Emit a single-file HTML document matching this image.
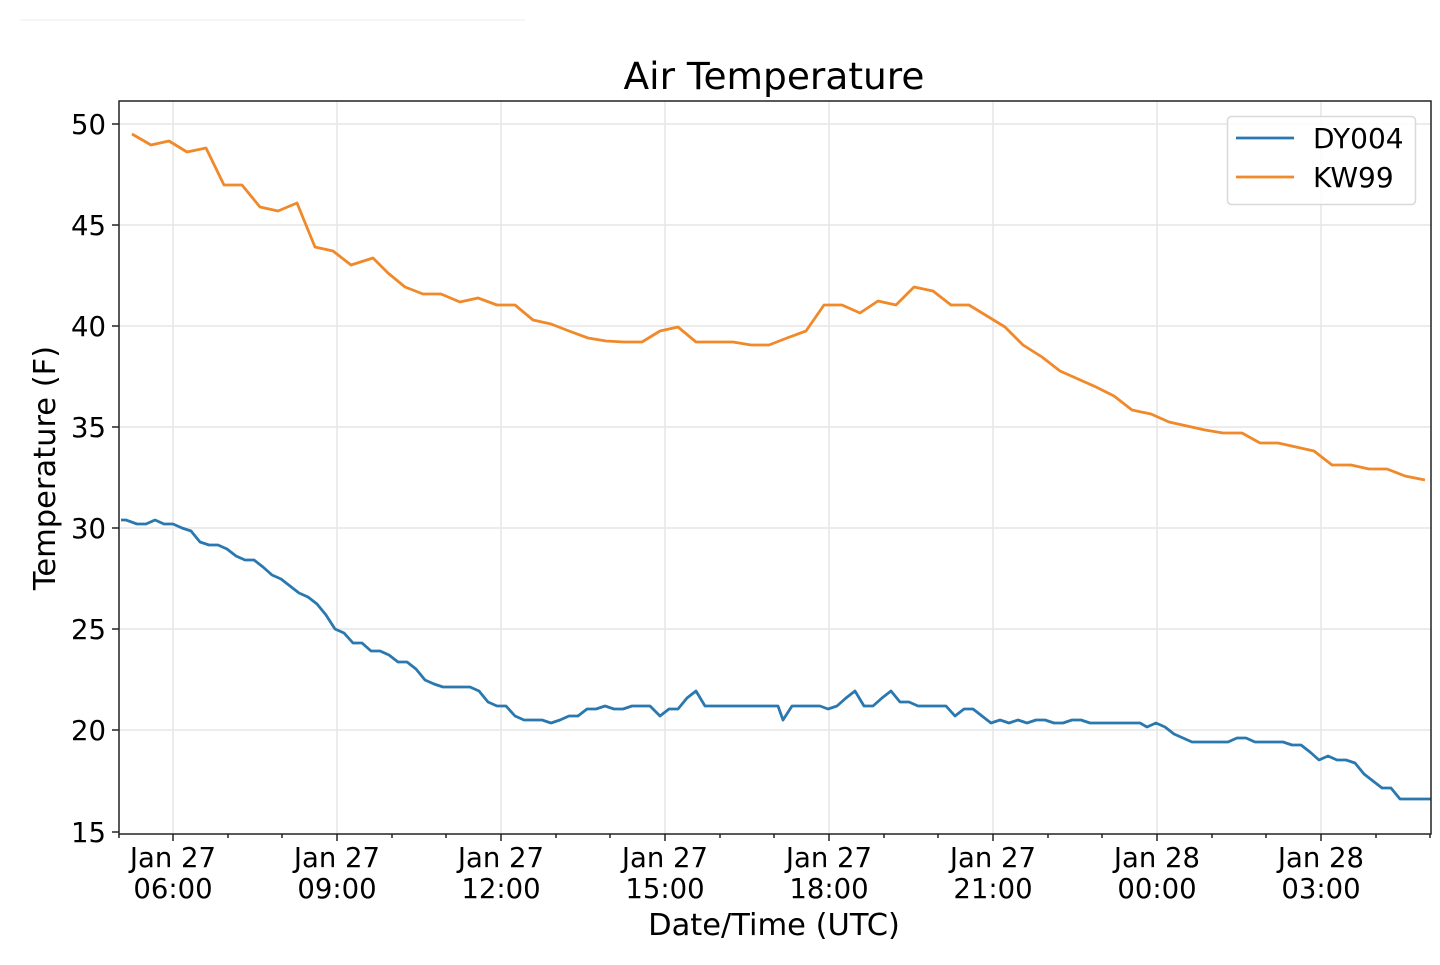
<!DOCTYPE html>
<html><head><meta charset="utf-8"><style>
html,body{margin:0;padding:0;background:#fff}
svg{display:block}
text{font-family:"DejaVu Sans","Liberation Sans",sans-serif;fill:#000}
</style></head><body>
<svg width="1440" height="965" viewBox="0 0 1440 965">
<line x1="20" y1="20" x2="525" y2="20" stroke="#eeeeee" stroke-width="1"/>
<g stroke="#e6e6e6" stroke-width="1.5">
<line x1="119" x2="1431" y1="124" y2="124"/><line x1="119" x2="1431" y1="225" y2="225"/><line x1="119" x2="1431" y1="326" y2="326"/><line x1="119" x2="1431" y1="427" y2="427"/><line x1="119" x2="1431" y1="528" y2="528"/><line x1="119" x2="1431" y1="629" y2="629"/><line x1="119" x2="1431" y1="730" y2="730"/>
<line y1="101" y2="834" x1="173" x2="173"/><line y1="101" y2="834" x1="337" x2="337"/><line y1="101" y2="834" x1="501" x2="501"/><line y1="101" y2="834" x1="665" x2="665"/><line y1="101" y2="834" x1="829" x2="829"/><line y1="101" y2="834" x1="993" x2="993"/><line y1="101" y2="834" x1="1157" x2="1157"/><line y1="101" y2="834" x1="1321" x2="1321"/>
</g>
<polyline fill="none" stroke="#f0892a" stroke-width="2.8" stroke-linejoin="round" points="132,134 151,145 169,141 187,152 206,148 224,185 242,185 260,207 278,211 297,203 315,247 333,251 351,265 373,258 388,273 405,287 423,294 441,294 460,302 478,298 497,305 515,305 533,320 551,324 569,331 588,338 606,341 624,342 642,342 660,331 678,327 696,342 715,342 733,342 751,345 769,345 787,338 806,331 824,305 842,305 860,313 878,301 896,305 914,287 933,291 951,305 969,305 987,316 1005,327 1023,345 1042,357 1060,371 1078,379 1096,387 1114,396 1132,410 1151,414 1169,422 1187,426 1205,430 1223,433 1242,433 1260,443 1278,443 1296,447 1314,451 1332,465 1351,465 1369,469 1387,469 1405,476 1425,480"/>
<polyline fill="none" stroke="#2a78b0" stroke-width="2.8" stroke-linejoin="round" points="121,520 126,520 137,524 146,524 155,520 164,524 173,524 182,528 191,531 200,542 209,545 218,545 227,549 236,556 245,560 254,560 263,567 272,575 281,579 290,586 299,593 308,597 317,604 326,615 335,629 344,633 353,643 362,643 371,651 380,651 389,655 398,662 407,662 416,669 425,680 434,684 443,687 452,687 461,687 470,687 479,691 488,702 497,706 506,706 515,716 524,720 533,720 542,720 551,723 560,720 569,716 578,716 587,709 596,709 605,706 614,709 623,709 632,706 641,706 650,706 660,716 669,709 678,709 687,698 696,691 705,706 778,706 783,720 792,706 820,706 828,709 837,706 846,698 855,691 864,706 873,706 882,698 891,691 900,702 909,702 918,706 946,706 955,716 964,709 973,709 982,716 991,723 1000,720 1009,723 1018,720 1027,723 1036,720 1045,720 1054,723 1063,723 1072,720 1081,720 1090,723 1140,723 1147,727 1156,723 1165,727 1174,734 1183,738 1192,742 1228,742 1237,738 1246,738 1255,742 1283,742 1292,745 1301,745 1310,752 1319,760 1328,756 1337,760 1346,760 1355,763 1364,774 1373,781 1382,788 1391,788 1400,799 1431,799"/>
<rect x="119" y="101" width="1312" height="733" fill="none" stroke="#222" stroke-width="1.5"/>
<g stroke="#222" stroke-width="1.5">
<line x1="112" x2="119" y1="124" y2="124"/><line x1="112" x2="119" y1="225" y2="225"/><line x1="112" x2="119" y1="326" y2="326"/><line x1="112" x2="119" y1="427" y2="427"/><line x1="112" x2="119" y1="528" y2="528"/><line x1="112" x2="119" y1="629" y2="629"/><line x1="112" x2="119" y1="730" y2="730"/><line x1="112" x2="119" y1="832" y2="832"/>
<line y1="834" y2="841" x1="173" x2="173"/><line y1="834" y2="841" x1="337" x2="337"/><line y1="834" y2="841" x1="501" x2="501"/><line y1="834" y2="841" x1="665" x2="665"/><line y1="834" y2="841" x1="829" x2="829"/><line y1="834" y2="841" x1="993" x2="993"/><line y1="834" y2="841" x1="1157" x2="1157"/><line y1="834" y2="841" x1="1321" x2="1321"/>
<line y1="834" y2="838" x1="119" x2="119"/><line y1="834" y2="838" x1="228" x2="228"/><line y1="834" y2="838" x1="282" x2="282"/><line y1="834" y2="838" x1="392" x2="392"/><line y1="834" y2="838" x1="446" x2="446"/><line y1="834" y2="838" x1="556" x2="556"/><line y1="834" y2="838" x1="610" x2="610"/><line y1="834" y2="838" x1="720" x2="720"/><line y1="834" y2="838" x1="774" x2="774"/><line y1="834" y2="838" x1="884" x2="884"/><line y1="834" y2="838" x1="938" x2="938"/><line y1="834" y2="838" x1="1048" x2="1048"/><line y1="834" y2="838" x1="1102" x2="1102"/><line y1="834" y2="838" x1="1212" x2="1212"/><line y1="834" y2="838" x1="1266" x2="1266"/><line y1="834" y2="838" x1="1376" x2="1376"/><line y1="834" y2="838" x1="1430" x2="1430"/>
</g>
<g font-size="27.5" text-anchor="end">
<text x="106" y="134">50</text><text x="106" y="235">45</text><text x="106" y="336">40</text><text x="106" y="437">35</text><text x="106" y="538">30</text><text x="106" y="639">25</text><text x="106" y="740">20</text><text x="106" y="842">15</text>
</g>
<g font-size="27.5" text-anchor="middle">
<text x="173" y="867">Jan 27</text><text x="173" y="898">06:00</text>
<text x="337" y="867">Jan 27</text><text x="337" y="898">09:00</text>
<text x="501" y="867">Jan 27</text><text x="501" y="898">12:00</text>
<text x="665" y="867">Jan 27</text><text x="665" y="898">15:00</text>
<text x="829" y="867">Jan 27</text><text x="829" y="898">18:00</text>
<text x="993" y="867">Jan 27</text><text x="993" y="898">21:00</text>
<text x="1157" y="867">Jan 28</text><text x="1157" y="898">00:00</text>
<text x="1321" y="867">Jan 28</text><text x="1321" y="898">03:00</text>
<text x="774" y="935" font-size="30.5">Date/Time (UTC)</text>
<text x="774" y="89" font-size="37.5">Air Temperature</text>
<text transform="translate(55,468) rotate(-90)" font-size="30.5">Temperature (F)</text>
</g>
<rect x="1227.5" y="116.5" width="188" height="88" rx="4" fill="#fff" fill-opacity="0.8" stroke="#d9d9d9" stroke-width="1.5"/>
<line x1="1236" x2="1294" y1="138" y2="138" stroke="#2a78b0" stroke-width="2.8"/>
<line x1="1236" x2="1294" y1="177" y2="177" stroke="#f0892a" stroke-width="2.8"/>
<text x="1313" y="148" font-size="28">DY004</text>
<text x="1313" y="187" font-size="28">KW99</text>
</svg>
</body></html>
